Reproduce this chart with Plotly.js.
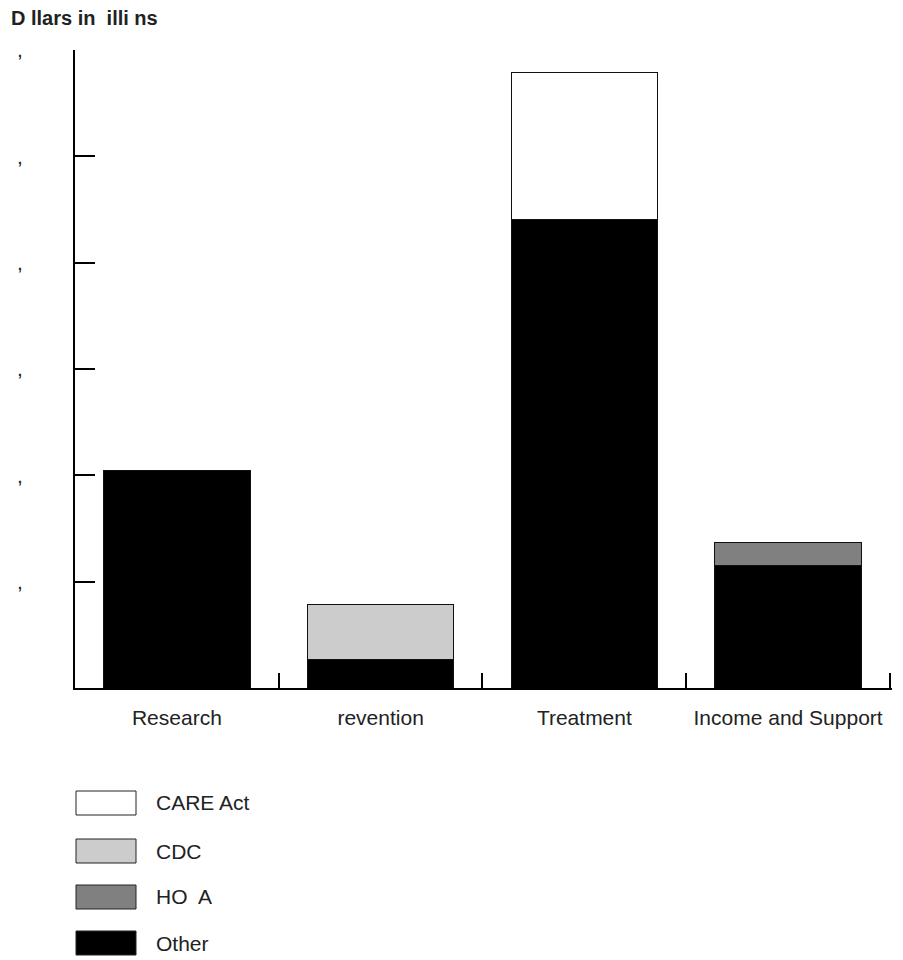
<!DOCTYPE html>
<html>
<head>
<meta charset="utf-8">
<script src="https://cdn.plot.ly/plotly-3.0.1.min.js"></script>
<style>html,body{margin:0;padding:0;background:#fff;}#chart{width:903px;height:960px;}</style>
</head>
<body>
<div id="chart"></div>
<script>
const categories = ["Research", "revention", "Treatment", "Income and Support"];
const otherValues = [1025, 132, 2201, 574];
const hopwaValues = [0, 0, 0, 108];
const cdcValues = [0, 263, 0, 0];
const careValues = [0, 0, 692, 0];
const yTickValues = [0, 500, 1000, 1500, 2000, 2500, 3000];
const yTickLabels = ["", ",", ",", ",", ",", ",", ","];
const seriesNames = ["CARE Act", "CDC", "HO  A", "Other"];
const seriesColors = ["#ffffff", "#cccccc", "#808080", "#000000"];
const yTitle = "D llars in  illi ns";

const FONT = "Liberation Sans, Arial, Helvetica, sans-serif";
const catPos = categories.map((_, i) => i);
const boundaryPos = [-0.5].concat(catPos.map(p => p + 0.5));
const xRange = [-0.5, 3.51];

const seriesValues = [careValues, cdcValues, hopwaValues, otherValues];
const traces = [];
for (let i = seriesNames.length - 1; i >= 0; i--) {
  traces.push({
    type: "bar",
    name: seriesNames[i],
    x: catPos,
    y: seriesValues[i],
    width: 0.72,
    marker: {color: seriesColors[i], line: {color: "#111", width: 1}},
    showlegend: false,
    hoverinfo: "skip"
  });
}
// carrier for the category label axis (invisible)
traces.push({
  type: "scatter", mode: "markers", x: catPos, y: catPos.map(() => 0),
  xaxis: "x2", yaxis: "y", marker: {opacity: 0, size: 1},
  showlegend: false, hoverinfo: "skip"
});

const plotL = 75, plotR = 892, plotT = 50, plotB = 688;
const pw = plotR - plotL, ph = plotB - plotT;
function px(x){ return (x - plotL) / pw; }
function py(y){ return (plotB - y) / ph; }

const shapes = [];
const annotations = [{
  text: "<b>" + yTitle + "</b>",
  xref: "paper", yref: "paper",
  x: px(9), y: py(18),
  xanchor: "left", yanchor: "middle",
  showarrow: false,
  font: {family: FONT, size: 20, color: "#222"}
}];
// legend built from series names/colors
const legendY = [803, 851, 897, 943];
seriesNames.forEach((name, i) => {
  const cy = legendY[i];
  shapes.push({
    type: "rect", xref: "paper", yref: "paper",
    x0: px(76), x1: px(136), y0: py(cy + 12), y1: py(cy - 12),
    fillcolor: seriesColors[i], line: {color: "#222", width: 1}
  });
  annotations.push({
    text: name, xref: "paper", yref: "paper",
    x: px(154), y: py(cy), xanchor: "left", yanchor: "middle",
    showarrow: false,
    font: {family: FONT, size: 21, color: "#222"}
  });
});

const layout = {
  width: 903, height: 960,
  margin: {l: plotL, r: 903 - plotR, t: plotT, b: 960 - plotB},
  paper_bgcolor: "#fff", plot_bgcolor: "#fff",
  barmode: "stack",
  showlegend: false,
  font: {family: FONT, color: "#222"},
  xaxis: {
    range: xRange,
    tickmode: "array", tickvals: boundaryPos,
    showticklabels: false,
    showline: true, linecolor: "#000", linewidth: 2,
    ticks: "inside", ticklen: 15, tickwidth: 2, tickcolor: "#000",
    showgrid: false, zeroline: false,
    fixedrange: true
  },
  xaxis2: {
    overlaying: "x", anchor: "y", side: "bottom",
    range: xRange,
    tickmode: "array", tickvals: catPos, ticktext: categories,
    ticks: "", showline: false, showgrid: false, zeroline: false,
    tickfont: {family: FONT, size: 21, color: "#222"},
    ticklabelstandoff: 15,
    fixedrange: true
  },
  yaxis: {
    range: [0, 3000],
    tickmode: "array", tickvals: yTickValues, ticktext: yTickLabels,
    showline: true, linecolor: "#000", linewidth: 2,
    ticks: "inside", ticklen: 20, tickwidth: 2, tickcolor: "#000",
    showgrid: false, zeroline: false,
    tickfont: {family: FONT, size: 21, color: "#222"},
    ticklabelstandoff: 46,
    fixedrange: true
  },
  shapes: shapes,
  annotations: annotations
};

Plotly.newPlot("chart", traces, layout, {displayModeBar: false, staticPlot: true});
</script>
</body>
</html>
